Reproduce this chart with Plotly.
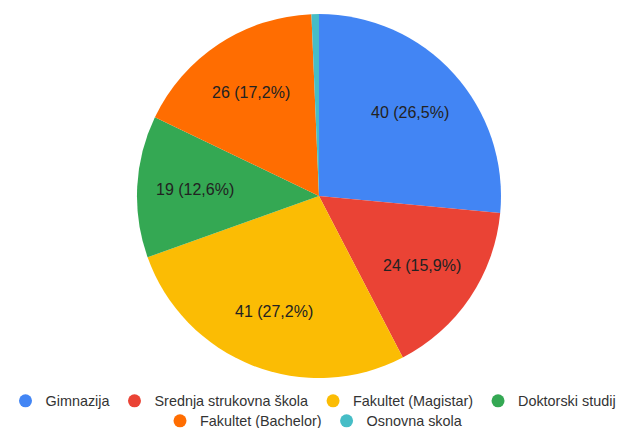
import math
import plotly.graph_objects as go

categories = ["Gimnazija", "Srednja strukovna škola", "Fakultet (Magistar)",
              "Doktorski studij", "Fakultet (Bachelor)", "Osnovna skola"]
values = [40, 24, 41, 19, 26, 1]
colors = ["#4285F4", "#EA4335", "#FBBC04", "#34A853", "#FF6D01", "#46BDC6"]

W, H = 627, 428
font = "Liberation Sans, Arial, sans-serif"

dom_x = [0.0175, 1.0]
dom_y = [50 / H, 414 / H]

fig = go.Figure()
fig.add_trace(go.Pie(
    labels=categories, values=values,
    textinfo="none",
    sort=False, direction="clockwise", rotation=0,
    marker=dict(colors=colors, line=dict(width=0)),
    showlegend=False, hoverinfo="label+value+percent",
    domain=dict(x=dom_x, y=dom_y),
))

# slice labels placed along each slice's mid-angle
total = sum(values)
cx = (dom_x[0] + dom_x[1]) / 2
cy = (dom_y[0] + dom_y[1]) / 2
r_px = min((dom_x[1] - dom_x[0]) * W, (dom_y[1] - dom_y[0]) * H) / 2
label_r = 0.68 * r_px
cum = 0
for v in values:
    mid = (cum + v / 2) / total * 2 * math.pi
    cum += v
    pct = v / total * 100
    if pct < 5:
        continue
    txt = f"{v} ({pct:.1f}%)".replace(".", ",")
    fig.add_annotation(
        x=cx + label_r * math.sin(mid) / W,
        y=cy + label_r * math.cos(mid) / H,
        xref="paper", yref="paper", text=txt, showarrow=False,
        font=dict(family=font, size=16, color="#222222"),
        xanchor="center", yanchor="middle",
    )

for i, (c, col) in enumerate(zip(categories, colors)):
    fig.add_trace(go.Scatter(
        x=[None], y=[None], mode="markers", name=c,
        marker=dict(symbol="circle", size=13, color=col),
        legend="legend" if i < 4 else "legend2",
    ))

leg_common = dict(orientation="h", xanchor="center", x=0.5, yanchor="middle",
                  font=dict(family=font, size=14.4, color="#333333"),
                  bgcolor="rgba(0,0,0,0)", itemsizing="trace")

fig.update_layout(
    width=W, height=H,
    margin=dict(l=0, r=0, t=0, b=0, autoexpand=False),
    paper_bgcolor="white", plot_bgcolor="white",
    xaxis=dict(visible=False), yaxis=dict(visible=False),
    legend=dict(y=1 - 401 / H, **leg_common),
    legend2=dict(y=1 - 421 / H, **leg_common),
)

fig.write_html("out.html", config={"displayModeBar": False},
               post_script="document.body.style.margin='0';")
